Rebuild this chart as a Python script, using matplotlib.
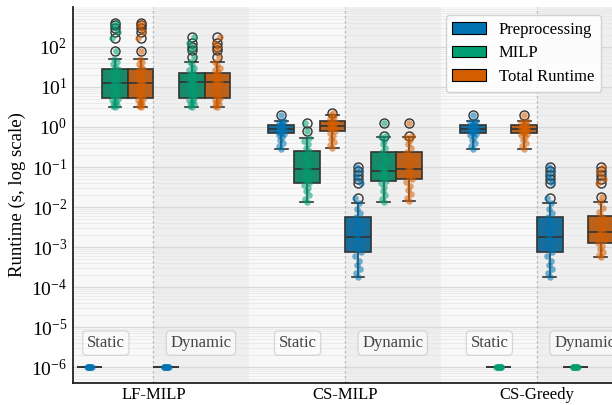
import colorsys
import numpy as np
import matplotlib
matplotlib.use("Agg")
import matplotlib.pyplot as plt
from matplotlib.patches import Patch
from matplotlib.colors import to_rgb

plt.rcParams['font.family'] = ['Liberation Serif', 'DejaVu Serif']
plt.rcParams['mathtext.fontset'] = 'stix'
plt.rcParams['font.size'] = 12

# categories
methods = ['LF-MILP', 'CS-MILP', 'CS-Greedy']
modes = ['Static', 'Dynamic']
components = ['Preprocessing', 'MILP', 'Total Runtime']
palette = ['#0173b2', '#029e73', '#d55e00']

# box stats per group (LF static, LF dyn, CS static, CS dyn, Greedy static, Greedy dyn)
# (whislo, q1, med, q3, whishi)
flat = (1e-6, 1e-6, 1e-6, 1e-6, 1e-6)
pre_stats = [flat, flat,
             (0.28, 0.69, 0.89, 1.12, 1.44),
             (1.8e-4, 7.6e-4, 1.75e-3, 5.7e-3, 0.0128),
             (0.28, 0.69, 0.89, 1.12, 1.44),
             (1.8e-4, 7.6e-4, 1.75e-3, 5.7e-3, 0.0128)]
pre_fliers = [[], [], [2.0], [0.017, 0.04, 0.05, 0.063, 0.079, 0.1],
              [2.0], [0.017, 0.04, 0.05, 0.063, 0.079, 0.1]]

milp_stats = [(3.2, 5.2, 12.4, 27.7, 49),
              (3.2, 5.2, 13.5, 22.8, 41),
              (0.0135, 0.039, 0.089, 0.25, 0.52),
              (0.0135, 0.045, 0.079, 0.24, 0.55),
              flat, flat]
milp_fliers = [[81, 165, 240, 294, 355, 405], [55, 84, 102, 128, 174],
               [0.81, 1.24], [0.6, 1.23], [], []]

total_stats = [(3.2, 5.2, 12.4, 27.7, 49),
               (3.2, 5.2, 13.5, 22.8, 41),
               (0.30, 0.81, 1.06, 1.44, 2.0),
               (0.014, 0.049, 0.087, 0.24, 0.55),
               (0.28, 0.69, 0.89, 1.12, 1.44),
               (5.7e-4, 1.24e-3, 2.4e-3, 6.0e-3, 0.013)]
total_fliers = [[81, 165, 240, 294, 355, 405], [55, 84, 102, 128, 174],
                [2.3], [0.6, 1.28], [2.0], [0.018, 0.04, 0.05, 0.063, 0.079, 0.1]]

# individual runs (strip points)
zero_pts = [1e-6] * 10
lf_static_pts = [3.2, 3.4, 3.6, 3.9, 4.2, 4.6, 5.0, 5.5, 6.2, 7.0, 8.0, 9.2, 10.5, 12, 13.5,
                 15, 17, 19.5, 22, 25, 28, 32, 37, 43, 49, 81, 165, 240, 294, 355, 405]
lf_dyn_pts = [3.2, 3.4, 3.7, 4.0, 4.4, 4.8, 5.3, 6.0, 7.0, 8.2, 9.5, 11, 12.5, 13.5, 15,
              17, 19, 21, 23, 26, 30, 35, 41, 55, 84, 102, 128, 174]
pre_static_pts = [0.28, 0.33, 0.4, 0.48, 0.55, 0.62, 0.67, 0.72, 0.76, 0.8, 0.84, 0.88,
                  0.92, 0.96, 1.0, 1.05, 1.1, 1.15, 1.25, 1.35, 1.44, 2.0]
pre_dyn_pts = [1.8e-4, 2.2e-4, 2.8e-4, 3.5e-4, 4.5e-4, 6e-4, 7.5e-4, 9e-4, 1.1e-3, 1.4e-3,
               1.75e-3, 2.2e-3, 2.8e-3, 3.5e-3, 4.5e-3, 5.7e-3, 7e-3, 9e-3, 0.0128,
               0.017, 0.04, 0.05, 0.063, 0.079, 0.1]
cs_milp_static_pts = [0.0135, 0.016, 0.02, 0.025, 0.03, 0.035, 0.039, 0.045, 0.055, 0.065,
                      0.078, 0.089, 0.1, 0.12, 0.15, 0.19, 0.25, 0.3, 0.37, 0.45, 0.52,
                      0.81, 1.24]
cs_milp_dyn_pts = [0.0135, 0.016, 0.02, 0.025, 0.032, 0.04, 0.045, 0.052, 0.06, 0.07, 0.079,
                   0.09, 0.11, 0.14, 0.18, 0.24, 0.3, 0.38, 0.45, 0.55, 0.6, 1.23]
cs_total_static_pts = [0.30, 0.36, 0.42, 0.5, 0.6, 0.7, 0.81, 0.87, 0.93, 1.0, 1.06, 1.12,
                       1.2, 1.3, 1.44, 1.6, 1.8, 2.0, 2.3]
cs_total_dyn_pts = [0.014, 0.017, 0.021, 0.027, 0.034, 0.042, 0.049, 0.057, 0.066, 0.077,
                    0.087, 0.1, 0.12, 0.15, 0.19, 0.24, 0.3, 0.38, 0.47, 0.55, 0.6, 1.28]
gr_total_dyn_pts = [5.7e-4, 6.5e-4, 7.5e-4, 9e-4, 1.05e-3, 1.24e-3, 1.5e-3, 1.8e-3, 2.1e-3,
                    2.4e-3, 2.8e-3, 3.3e-3, 4e-3, 5e-3, 6e-3, 7.5e-3, 9.5e-3, 0.013, 0.018,
                    0.04, 0.05, 0.063, 0.079, 0.1]

pre_pts = [zero_pts, zero_pts, pre_static_pts, pre_dyn_pts, pre_static_pts, pre_dyn_pts]
milp_pts = [lf_static_pts, lf_dyn_pts, cs_milp_static_pts, cs_milp_dyn_pts, zero_pts, zero_pts]
total_pts = [lf_static_pts, lf_dyn_pts, cs_total_static_pts, cs_total_dyn_pts,
             pre_static_pts, gr_total_dyn_pts]

ytick_vals = [1e-6, 1e-5, 1e-4, 1e-3, 1e-2, 1e-1, 1e0, 1e1, 1e2]


def desaturate(color, prop=0.75):
    h, l, s = colorsys.rgb_to_hls(*to_rgb(color))
    return colorsys.hls_to_rgb(h, l, s * prop)


# group centres: two modes per method, wider gap between methods
centers = []
for m in range(len(methods)):
    for k in range(len(modes)):
        centers.append(m * 2.5 + k)
centers = np.array(centers)
method_centers = [m * 2.5 + 0.5 for m in range(len(methods))]
width = 0.333
offsets = [-width, 0.0, width]

fig = plt.figure(figsize=(6.12, 4.05), dpi=100)
ax = fig.add_axes([0.119, 0.054, 0.89, 0.929])

# background bands
for mc in method_centers:
    ax.axvspan(mc - 1.25, mc, color='#f8f8f8', zorder=0, lw=0)
    ax.axvspan(mc, mc + 1.25, color='#efefef', zorder=0, lw=0)
    ax.axvline(mc, color='#b8b8b8', ls=(0, (2, 2)), lw=0.9, zorder=0.6)

ax.set_yscale('log')
ax.set_ylim(4e-7, 1e3)
ax.set_xlim(-0.55, 6.55)
ax.set_yticks(ytick_vals)
ax.yaxis.grid(True, which='major', color='#d9d9d9', lw=0.9, zorder=0.5)
ax.yaxis.grid(True, which='minor', color='#e6e6e6', lw=0.5, zorder=0.5)
ax.set_axisbelow(True)

all_stats = [pre_stats, milp_stats, total_stats]
all_fliers = [pre_fliers, milp_fliers, total_fliers]
all_pts = [pre_pts, milp_pts, total_pts]
jit = np.array([0.0, -0.025, 0.025, -0.012, 0.012, -0.035, 0.035])

for c, comp in enumerate(components):
    stats = []
    for g in range(len(centers)):
        lo, q1, med, q3, hi = all_stats[c][g]
        stats.append(dict(whislo=lo, q1=q1, med=med, q3=q3, whishi=hi,
                          fliers=all_fliers[c][g]))
    pos = centers + offsets[c]
    bp = ax.bxp(stats, positions=pos, widths=width, capwidths=width * 0.5,
                patch_artist=True, showfliers=True,
                boxprops=dict(edgecolor='#333333', lw=1.2),
                medianprops=dict(color='#333333', lw=1.2),
                whiskerprops=dict(color='#333333', lw=1.2),
                capprops=dict(color='#333333', lw=1.2),
                flierprops=dict(marker='o', markerfacecolor='none',
                                markeredgecolor='#333333', markersize=6.5, mew=1.0))
    for b in bp['boxes']:
        b.set_facecolor(desaturate(palette[c]))
        b.set_zorder(2)
    for g in range(len(centers)):
        vals = np.array(all_pts[c][g])
        xs = pos[g] + np.resize(jit, len(vals))
        ax.scatter(xs, vals, s=22, color=palette[c], alpha=0.55, lw=0, zorder=3)

# mode labels
for mc in method_centers:
    for k, mode in enumerate(modes):
        x = mc - 0.62 if k == 0 else mc + 0.62
        ax.text(x, 4e-6, mode, ha='center', va='center', color='#444444', fontsize=12,
                bbox=dict(boxstyle='round,pad=0.25', fc='white', alpha=0.55,
                          ec='#bbbbbb', lw=0.9), zorder=4)

ax.set_xticks(method_centers)
ax.set_xticklabels(methods, fontsize=12)
ax.tick_params(axis='x', length=0, pad=3)
ax.tick_params(axis='y', which='both', length=0, labelsize=14, pad=4)
ax.set_ylabel('Runtime (s, log scale)', fontsize=13.5, labelpad=4)

for s in ['top', 'right']:
    ax.spines[s].set_visible(False)
for s in ['left', 'bottom']:
    ax.spines[s].set_color('#222222')
    ax.spines[s].set_linewidth(1.3)

handles = [Patch(facecolor=palette[i], edgecolor='black', lw=0.8, label=components[i])
           for i in range(3)]
leg = ax.legend(handles=handles, loc='upper right', fontsize=12, frameon=True,
                fancybox=True, framealpha=0.85, edgecolor='#cccccc',
                bbox_to_anchor=(0.985, 1.0), labelspacing=0.45, handlelength=2.0)

fig.savefig('out.png', dpi=100)
